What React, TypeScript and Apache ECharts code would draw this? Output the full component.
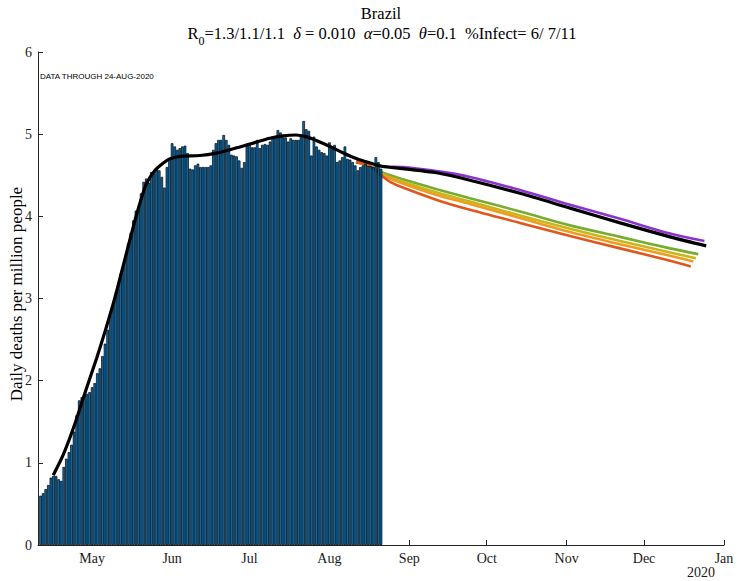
import React, { useEffect, useRef } from "react";
import * as echarts from "echarts";

// Day-of-year (2020) based x axis: Apr 10 = 101, Jan 1 2021 = 367
const xMinDay = 101;
const xMaxDay = 367;
const monthTickDays = [122, 153, 183, 214, 245, 275, 306, 336, 367];
const monthTickLabels = ["May", "Jun", "Jul", "Aug", "Sep", "Oct", "Nov", "Dec", "Jan"];

// Daily bars start on Apr 11 (day 102)
const barStartDay = 102;
const barValues = [
  0.60, 0.63, 0.68, 0.73, 0.82, 0.84, 0.84, 0.80, 0.78, 0.95,
  1.05, 1.13, 1.22, 1.38, 1.58, 1.76, 1.80, 1.83, 1.84, 1.86,
  1.92, 1.97, 2.09, 2.15, 2.30, 2.45, 2.62, 2.80, 2.90, 3.05,
  3.12, 3.30, 3.38, 3.52, 3.67, 3.80, 3.95, 4.07, 4.11, 4.28,
  4.42, 4.46, 4.41, 4.54, 4.52, 4.59, 4.56, 4.48, 4.35, 4.60,
  4.70, 4.89, 4.85, 4.81, 4.83, 4.85, 4.86, 4.77, 4.58, 4.57,
  4.62, 4.64, 4.60, 4.60, 4.60, 4.60, 4.62, 4.81, 4.89, 4.93,
  4.93, 4.99, 4.93, 4.87, 4.75, 4.74, 4.73, 4.68, 4.59, 4.66,
  4.86, 4.87, 4.84, 4.84, 4.93, 4.83, 4.87, 4.88, 4.87, 4.91,
  4.97, 4.97, 5.05, 5.02, 4.96, 4.96, 4.91, 4.95, 4.93, 4.93,
  4.93, 4.98, 5.16, 5.06, 5.04, 4.74, 4.97, 4.85, 4.81, 4.78,
  4.77, 4.74, 4.90, 4.85, 4.87, 4.66, 4.68, 4.72, 4.85, 4.70,
  4.69, 4.66, 4.62, 4.56, 4.60, 4.62, 4.64, 4.61, 4.61, 4.60,
  4.72, 4.66, 4.58,
];

// Black model fit + baseline projection
const fitDays = [106.9, 110.8, 114.7, 119.2, 123.8, 127.0, 130.9, 134.7, 138.6, 140.6, 143.1, 146.4, 149.6, 152.2, 156.1, 163.8, 170.3, 175.4, 183.2, 190.9, 196.0, 201.0, 205.0, 209.1, 214.2, 219.4, 224.6, 229.7, 234.3, 242.5, 255.6, 268.5, 287.9, 307.3, 326.7, 346.1, 360.1];
const fitValues = [0.85, 1.10, 1.42, 1.85, 2.28, 2.60, 3.02, 3.48, 3.95, 4.17, 4.40, 4.56, 4.65, 4.70, 4.73, 4.74, 4.77, 4.81, 4.88, 4.95, 4.98, 4.99, 4.97, 4.92, 4.85, 4.77, 4.70, 4.65, 4.61, 4.58, 4.53, 4.44, 4.28, 4.10, 3.92, 3.75, 3.64];

// Scenario projections
const purpleDays = [224.3, 229.7, 234.3, 242.5, 255.6, 268.5, 287.9, 307.3, 326.7, 346.1, 359.4];
const purpleValues = [4.70, 4.65, 4.61, 4.60, 4.55, 4.48, 4.32, 4.14, 3.97, 3.79, 3.70];
const greenDays = [224.3, 229.7, 234.8, 242.5, 255.6, 268.5, 287.9, 307.3, 326.7, 346.1, 357.0];
const greenValues = [4.66, 4.61, 4.53, 4.45, 4.33, 4.22, 4.06, 3.89, 3.75, 3.61, 3.54];
const yellowDays = [224.3, 229.7, 234.8, 242.5, 255.6, 268.5, 287.9, 307.3, 326.7, 346.1, 356.1];
const yellowValues = [4.66, 4.61, 4.51, 4.42, 4.29, 4.18, 4.01, 3.85, 3.70, 3.56, 3.49];
const orangeDays = [224.3, 229.7, 234.8, 242.5, 255.6, 268.5, 287.9, 307.3, 326.7, 346.1, 355.1];
const orangeValues = [4.66, 4.61, 4.50, 4.40, 4.26, 4.15, 3.98, 3.81, 3.66, 3.52, 3.45];
const redDays = [224.3, 229.7, 234.8, 237.5, 242.5, 255.6, 268.5, 287.9, 307.3, 326.7, 346.1, 354.1];
const redValues = [4.66, 4.61, 4.48, 4.42, 4.35, 4.20, 4.08, 3.92, 3.76, 3.61, 3.46, 3.39];

const serif = "'Liberation Serif', 'Times New Roman', serif";
const sans = "'Liberation Sans', Arial, sans-serif";

const pairs = (xs: number[], ys: number[]) => xs.map((x, i) => [x, ys[i]]);

export default function App() {
  const ref = useRef<HTMLDivElement>(null);
  useEffect(() => {
    if (!ref.current) return;
    const chart = echarts.init(ref.current, undefined, { renderer: "svg" });
    const axisColor = "#262626";
    const lineSeries = (name: string, data: number[][], color: string, width: number, z: number) => ({
      name,
      type: "line",
      data,
      smooth: 0.3,
      showSymbol: false,
      symbol: "none",
      lineStyle: { color, width, cap: "butt" },
      z,
      silent: true,
    });
    chart.setOption({
      animation: false,
      backgroundColor: "#ffffff",
      grid: { left: 38, right: 13, top: 52, bottom: 36, containLabel: false },
      xAxis: {
        type: "value",
        min: xMinDay,
        max: xMaxDay,
        axisLine: { show: true, lineStyle: { color: axisColor, width: 1 } },
        axisTick: { show: true, inside: true, length: 5, customValues: monthTickDays, lineStyle: { color: axisColor } },
        axisLabel: {
          customValues: monthTickDays,
          formatter: (v: number) => {
            const k = monthTickDays.indexOf(Math.round(v));
            return k >= 0 ? monthTickLabels[k] : "";
          },
          fontFamily: serif,
          fontSize: 14,
          color: "#1a1a1a",
          margin: 6,
        },
        splitLine: { show: false },
      },
      yAxis: {
        type: "value",
        min: 0,
        max: 6,
        interval: 1,
        axisLine: { show: true, lineStyle: { color: axisColor, width: 1 } },
        axisTick: { show: true, inside: true, length: 5, lineStyle: { color: axisColor } },
        axisLabel: { fontFamily: serif, fontSize: 14, color: "#1a1a1a", margin: 6 },
        splitLine: { show: false },
      },
      series: [
        lineSeries("Scenario purple", pairs(purpleDays, purpleValues), "#8A33D0", 2.6, 1),
        lineSeries("Scenario green", pairs(greenDays, greenValues), "#77AC30", 2.6, 1),
        lineSeries("Scenario yellow", pairs(yellowDays, yellowValues), "#C9B617", 2.6, 1),
        lineSeries("Scenario orange", pairs(orangeDays, orangeValues), "#EE9B22", 2.6, 1),
        lineSeries("Scenario red", pairs(redDays, redValues), "#E2561C", 2.6, 1),
        {
          name: "Daily deaths",
          type: "bar",
          data: barValues.map((v, i) => [barStartDay + i, v]),
          barWidth: 2.6,
          itemStyle: { color: "#0072BD", borderColor: "#000000", borderWidth: 0.7 },
          z: 2,
          silent: true,
        },
        lineSeries("Model fit", pairs(fitDays, fitValues), "#000000", 3.2, 3),
      ],
      graphic: [
        {
          type: "text",
          x: 381,
          y: 13,
          style: { text: "Brazil", font: `16.5px ${serif}`, fill: "#000", textAlign: "center", textVerticalAlign: "middle" },
        },
        {
          type: "text",
          x: 382,
          y: 33,
          style: {
            text: "{n|R}{s|0}{n|=1.3/1.1/1.1  }{g|δ}{n| = 0.010  }{g|α}{n|=0.05  }{g|θ}{n|=0.1  %Infect= 6/ 7/11}",
            textAlign: "center",
            textVerticalAlign: "middle",
            fill: "#000",
            rich: {
              n: { fontFamily: serif, fontSize: 16.5, lineHeight: 28, fill: "#000" },
              g: { fontFamily: serif, fontSize: 16.5, fontStyle: "italic", lineHeight: 28, fill: "#000" },
              s: { fontFamily: serif, fontSize: 12, lineHeight: 14, verticalAlign: "bottom", fill: "#000" },
            },
          },
        },
        {
          type: "text",
          x: 40,
          y: 76,
          style: { text: "DATA THROUGH 24-AUG-2020", font: `8px ${sans}`, fill: "#000", textAlign: "left", textVerticalAlign: "middle" },
        },
        {
          type: "text",
          x: 16,
          y: 294,
          rotation: Math.PI / 2,
          style: { text: "Daily deaths per million people", font: `17px ${serif}`, fill: "#000", textAlign: "center", textVerticalAlign: "middle" },
        },
        {
          type: "text",
          x: 701,
          y: 572,
          style: { text: "2020", font: `14px ${serif}`, fill: "#1a1a1a", textAlign: "center", textVerticalAlign: "middle" },
        },
      ],
    });
    return () => chart.dispose();
  }, []);
  return (
    <div
      ref={ref}
      style={{ position: "absolute", left: 0, top: 0, width: 737, height: 581, background: "#fff" }}
    />
  );
}
